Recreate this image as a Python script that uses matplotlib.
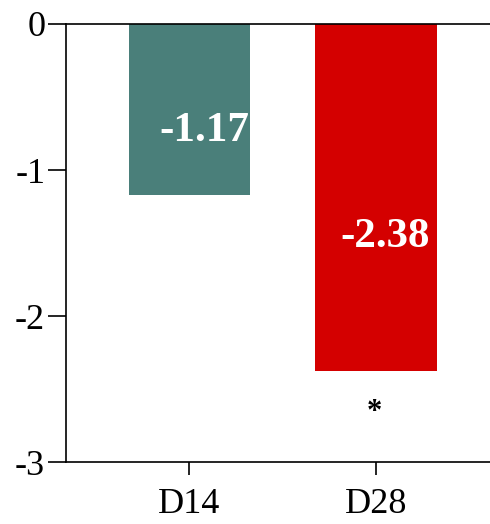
import matplotlib.pyplot as plt
import numpy as np

plt.rcParams['font.family'] = ['Liberation Serif', 'DejaVu Serif']

days = ["D14", "D28"]
change = [-1.17, -2.38]
labels = ["-1.17", "-2.38"]
colors = ["#4a7f7a", "#d40000"]

fig = plt.figure(figsize=(4.9, 5.24), dpi=100)
ax = fig.add_axes([0.1347, 0.1183, 0.8653, 0.8359])

x = np.arange(len(days))
ax.bar(x, change, width=0.65, color=colors)

# value labels inside bars
ax.text(x[0] + 0.08, -0.73, labels[0], color="white", fontsize=31,
        fontweight="bold", ha="center", va="center")
ax.text(x[1] + 0.05, -1.46, labels[1], color="white", fontsize=31,
        fontweight="bold", ha="center", va="center")
ax.text(x[1] - 0.01, -2.66, "*", color="black", fontsize=22,
        fontweight="bold", ha="center", va="center")

ax.set_xlim(-0.66, 1.61)
ax.set_ylim(-3, 0)
ax.set_yticks([0, -1, -2, -3])
ax.set_yticklabels(["0", "-1", "-2", "-3"])
ax.set_xticks(x)
ax.set_xticklabels(days)

for s in ["left", "top", "bottom"]:
    ax.spines[s].set_linewidth(1.2)
ax.spines["right"].set_visible(False)
ax.tick_params(axis="y", length=13, width=1.2, labelsize=26, pad=2)
ax.tick_params(axis="x", length=9, width=1.2, labelsize=26, pad=10)

fig.savefig("out.png", dpi=100)
